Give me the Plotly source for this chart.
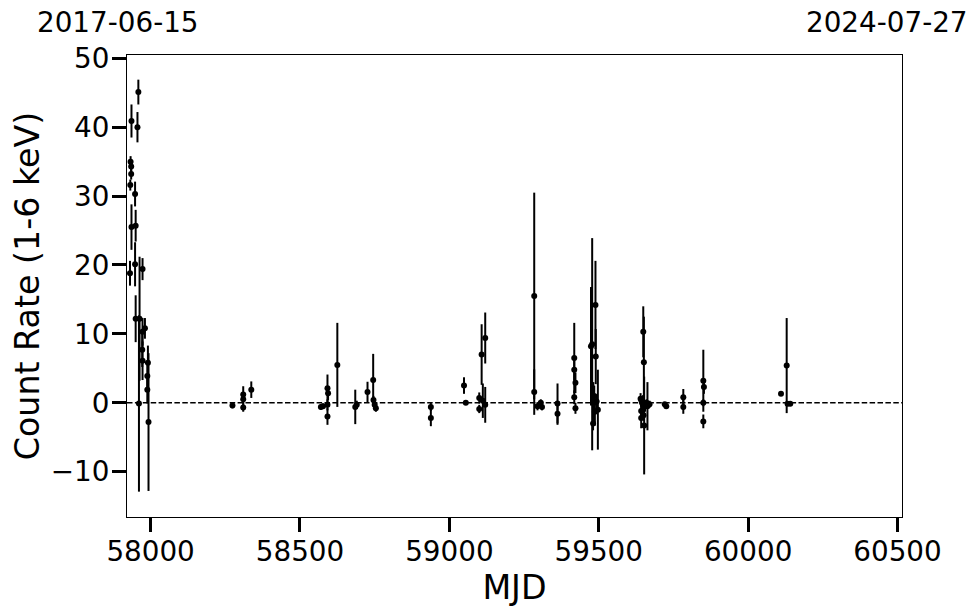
import plotly.graph_objects as go

# Observation times (MJD), count rates (1-6 keV) and 1-sigma errors
mjd = [
    57959, 57936, 57956, 57933, 57935, 57935, 57932, 57948, 57936, 57950,
    57931, 57948, 57973, 57950, 57963, 57981, 57973, 57972, 57973, 57991,
    57989, 57989, 57993, 57961,
    58274, 58310, 58310, 58310, 58337, 58570, 58577, 58592, 58594, 58592,
    58592, 58625, 58685, 58690, 58726, 58745, 58746, 58750, 58754, 58938,
    58938, 59049, 59055, 59100, 59100, 59108, 59112, 59120, 59120,
    59284, 59284, 59295, 59306, 59310, 59362, 59362, 59418, 59418, 59422,
    59418, 59422, 59474, 59478, 59489, 59490, 59482, 59487, 59481, 59497,
    59485, 59493,
    59649, 59651, 59645, 59640, 59648, 59643, 59655, 59660, 59642, 59642,
    59652, 59663, 59670, 59650, 59721, 59726, 59783, 59783, 59850, 59852,
    59850, 59850, 60110, 60129, 60132, 60141,
]
rate = [
    45.1, 40.9, 40.0, 35.0, 34.3, 33.2, 31.6, 30.3, 25.5, 25.7,
    18.8, 20.1, 19.4, 12.2, 12.2, 10.8, 10.3, 7.7, 6.1, 5.8,
    3.9, 1.9, -2.8, -0.1,
    -0.4, 1.2, 0.5, -0.7, 1.9, -0.6, -0.5, 2.1, 1.4, -0.3,
    -2.0, 5.5, -0.6, -0.3, 1.55, 3.3, 0.4, -0.3, -0.8, -0.6,
    -2.2, 2.5, 0.0, 0.7, -0.9, 7.0, 0.3, 9.4, -0.3,
    15.5, 1.55, -0.5, 0.0, -0.6, -0.1, -1.6, 6.5, 4.8, 2.9,
    0.8, -0.8, 8.2, 8.5, 14.2, 6.7, 0.0, -1.3, -3.0, -1.0,
    1.0, 0.2,
    10.3, 5.9, 0.0, 0.6, -0.4, 0.3, -0.5, 0.0, -1.2, -2.2,
    -3.3, -0.5, -0.2, -1.8, -0.2, -0.5, 0.8, -0.6, 3.2, 2.3,
    0.0, -2.7, 1.3, 5.4, -0.15, -0.15,
]
rate_err = [
    1.8, 2.4, 2.2, 0.8, 0.8, 0.8, 0.8, 1.8, 3.3, 2.3,
    1.8, 3.2, 1.6, 3.4, 9.0, 1.5, 2.0, 2.5, 2.8, 2.5,
    2.0, 2.0, 10.0, 12.8,
    0.4, 1.2, 0.8, 0.6, 1.2, 0.4, 0.4, 2.0, 1.0, 0.8,
    1.2, 6.1, 2.5, 0.6, 1.5, 3.8, 0.6, 0.5, 0.5, 0.6,
    1.2, 1.2, 0.3, 0.8, 0.6, 4.4, 2.5, 3.7, 2.6,
    15.0, 3.3, 0.6, 0.5, 0.5, 2.9, 1.6, 5.1, 1.5, 1.5,
    1.0, 0.8, 8.6, 15.4, 6.4, 4.0, 3.0, 2.0, 1.0, 5.8,
    1.5, 1.0,
    3.7, 6.6, 1.0, 0.8, 1.5, 0.6, 0.8, 0.5, 1.0, 1.5,
    7.1, 3.5, 0.5, 0.8, 0.3, 0.3, 1.2, 1.0, 4.5, 1.0,
    0.5, 1.0, 0.3, 6.9, 0.3, 0.3,
]

x_range = [57921, 60515]
y_range = [-16.58, 50.48]
x_ticks = [58000, 58500, 59000, 59500, 60000, 60500]
y_ticks = [-10, 0, 10, 20, 30, 40, 50]
date_labels = ["2017-06-15", "2024-07-27"]

FONT = "DejaVu Sans"

fig = go.Figure()
fig.add_hline(y=0, line=dict(color="black", width=1.5, dash="5.5px,2.4px"), layer="below")
fig.add_trace(go.Scatter(
    x=mjd, y=rate, mode="markers",
    marker=dict(color="black", size=6),
    error_y=dict(type="data", array=rate_err, visible=True, color="black",
                 thickness=2, width=0),
    showlegend=False,
))

axis_common = dict(
    showline=True, linecolor="black", linewidth=1, mirror=True,
    ticks="outside", ticklen=14, tickwidth=2.5, tickcolor="black",
    showgrid=False, zeroline=False,
    tickfont=dict(family=FONT, size=27.8, color="black"),
)

# page body has an 8px margin, so the figure is sized to fit 980x613 from (8,8)
fig.update_layout(
    width=972, height=605,
    margin=dict(l=119, r=78, t=47, b=96),
    paper_bgcolor="white", plot_bgcolor="white",
    font=dict(family=FONT, color="black"),
    xaxis=dict(range=x_range, tickvals=x_ticks, ticktext=[str(t) for t in x_ticks],
               ticklabelstandoff=-4,
               title=dict(text="MJD", font=dict(family=FONT, size=33.3, color="black"), standoff=2),
               **axis_common),
    yaxis=dict(range=y_range, tickvals=y_ticks,
               ticktext=[("\u2212" + str(-t)) if t < 0 else str(t) for t in y_ticks],
               ticklabelstandoff=-3,
               title=dict(text="Count Rate (1-6 keV)", font=dict(family=FONT, size=33.3, color="black"), standoff=4),
               **axis_common),
    annotations=[
        dict(text=date_labels[0], xref="paper", yref="paper", x=-0.0115, y=1.071,
             xanchor="center", yanchor="middle", showarrow=False,
             font=dict(family=FONT, size=27.8, color="black")),
        dict(text=date_labels[1], xref="paper", yref="paper", x=0.9805, y=1.071,
             xanchor="center", yanchor="middle", showarrow=False,
             font=dict(family=FONT, size=27.8, color="black")),
    ],
)

fig.write_html("out.html")
